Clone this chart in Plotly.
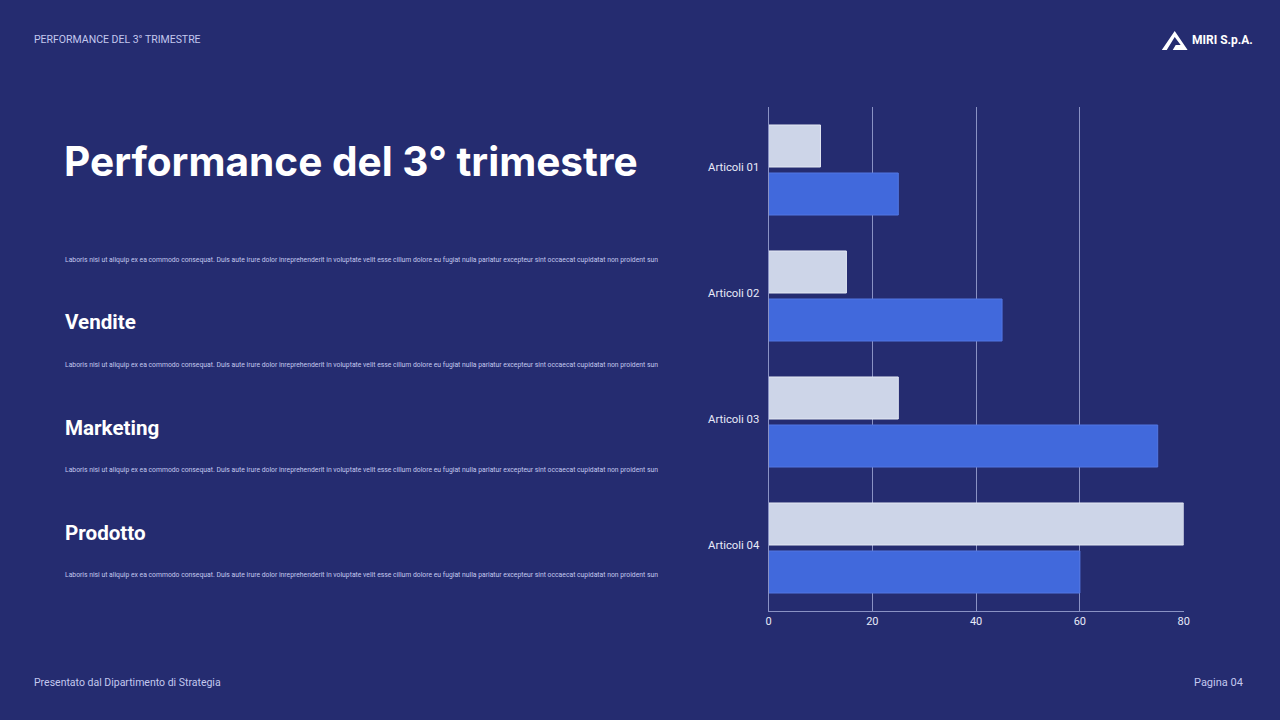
import plotly.graph_objects as go

categories = ["Articoli 01", "Articoli 02", "Articoli 03", "Articoli 04"]
series_a = [10, 15, 25, 80]   # light bars
series_b = [25, 45, 75, 60]   # blue bars
x_ticks = [0, 20, 40, 60, 80]

BG = "#252c70"
LIGHT = "#cdd5e8"
BLUE = "#4169dc"
SUB = "#c3c8ee"
W, H = 1280, 720

def px(x):
    return x / W

def py(y):
    return 1 - y / H

fig = go.Figure()
fig.add_trace(go.Bar(y=categories, x=series_a, orientation="h", name="A",
                     marker=dict(color=LIGHT, line=dict(color="#e4e9f4", width=1))))
fig.add_trace(go.Bar(y=categories, x=series_b, orientation="h", name="B",
                     marker=dict(color=BLUE, line=dict(color="#5277e2", width=1))))

fig.update_layout(
    width=W, height=H, autosize=False,
    paper_bgcolor=BG, plot_bgcolor=BG,
    margin=dict(l=0, r=0, t=0, b=0),
    showlegend=False,
    barmode="group", bargap=0.238, bargroupgap=0.125,
    font=dict(family="Roboto", color="white"),
    xaxis=dict(domain=[px(771), px(1189)], range=[0, 80], tickvals=x_ticks,
               showgrid=True, gridcolor="#8a92c4", gridwidth=1,
               zeroline=False, showline=True, linecolor="#8a92c4", linewidth=1,
               tickfont=dict(size=11, color="#e8eaf8"), ticks="", fixedrange=True),
    yaxis=dict(domain=[py(611), py(107)], autorange="reversed",
               showgrid=False, zeroline=False, showline=True, linecolor="#8a92c4",
               linewidth=1, tickfont=dict(size=11.3, color="#e8eaf8"), ticks="",
               ticklabelstandoff=6, ticklabelshift=3),
)

ann = []
def text(x, y, t, size, color="white", family="Roboto", xanchor="left", bold=False):
    if bold:
        t = "<b>" + t + "</b>"
    ann.append(dict(x=px(x), y=py(y), xref="paper", yref="paper", text=t,
                    showarrow=False, xanchor=xanchor, yanchor="middle",
                    font=dict(size=size, color=color, family=family)))

text(29, 39, "PERFORMANCE DEL 3° TRIMESTRE", 10.5, SUB)
text(1195, 40, "MIRI S.p.A.", 12, "white", bold=True)
text(59, 162, "Performance del 3° trimestre", 40.6, "white", family="Inter", bold=True)

lorem = ("Laboris nisi ut aliquip ex ea commodo consequat. Duis aute irure dolor inreprehenderit "
         "in voluptate velit esse cillum dolore eu fugiat nulla pariatur excepteur sint occaecat "
         "cupidatat non proident sun")
for yy in [260, 365, 470, 575]:
    text(60, yy, lorem, 6.8, SUB)
for yy, t in [(322, "Vendite"), (428, "Marketing"), (533, "Prodotto")]:
    text(60, yy, t, 20.6, "white", bold=True)

text(29, 682, "Presentato dal Dipartimento di Strategia", 10.5, SUB)
text(1251, 682, "Pagina 04", 11, SUB, xanchor="right")

fig.update_layout(annotations=ann)

# logo icon
pts = [(1167, 50), (1180, 31), (1193, 50), (1178, 50), (1181, 45), (1186, 45), (1180, 37), (1172, 50)]
path = "M " + " L ".join(f"{px(a)},{py(b)}" for a, b in pts) + " Z"
fig.add_shape(type="path", path=path, xref="paper", yref="paper",
              fillcolor="white", line=dict(width=0))

fig.write_html("out.html",
               config={"displayModeBar": False, "responsive": False},
               post_script="document.body.style.margin='0px';document.body.style.overflow='hidden';")
